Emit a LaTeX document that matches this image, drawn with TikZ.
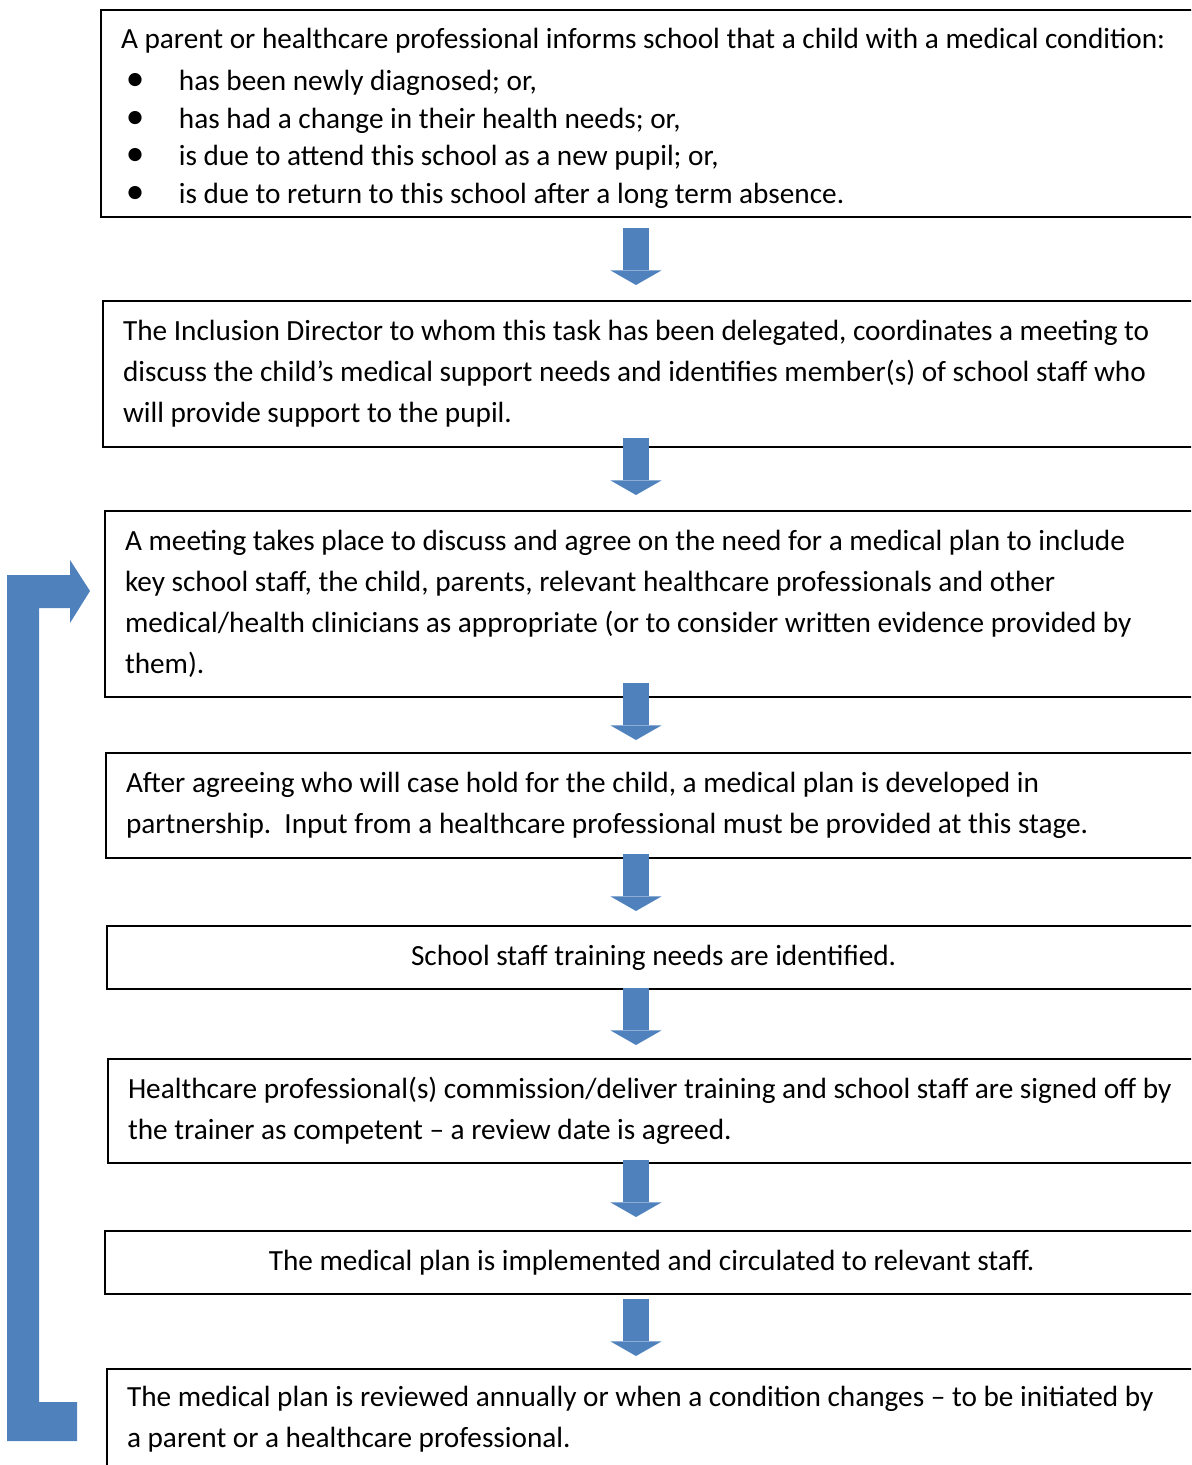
\documentclass[tikz,border=0pt]{standalone}
\usepackage{fontspec}
\setmainfont{Carlito}
\usetikzlibrary{arrows.meta}
\definecolor{flowblue}{RGB}{79,129,189}
\newcommand{\bulitem}{\makebox[21.8pt][l]{\hspace{1.8pt}{\fontsize{14}{14}\selectfont\textbullet}}}
\tikzset{
  stepbox/.style={draw,line width=0.8pt,anchor=north west,inner xsep=7.5pt,
    inner ysep=0pt,align=flush left,text width=430pt,
    font={\fontsize{11}{15.4}\selectfont}},
  centrebox/.style={stepbox,align=flush center,text width=396pt},
  downflow/.style={draw=flowblue,line width=9.8pt,
    -{Triangle[width=19.2pt,length=5.5pt,line width=0pt,fill=flowblue]}}
}

\begin{document}
\begin{tikzpicture}[x=0.376pt,y=-0.376pt]
    \clip (0,0) rectangle (1191,1465);
    % First we draw the steps
    \node[stepbox,minimum height=207*0.376pt] (inform) at (100,9)
      {{\baselineskip=14.1pt \rule{0pt}{11.3pt}A parent or healthcare professional informs school that a child with a medical condition:\\[1.7pt]
       \bulitem has been newly diagnosed; or,\\
       \bulitem has had a change in their health needs; or,\\
       \bulitem is due to attend this school as a new pupil; or,\\
       \bulitem is due to return to this school after a long term absence.\par}};
    \node[stepbox,minimum height=146*0.376pt] (coordinate) at (102,300)
      {The Inclusion Director to whom this task has been delegated, coordinates a meeting to\\
       discuss the child’s medical support needs and identifies member(s) of school staff who\\
       will provide support to the pupil.};
    \node[stepbox,minimum height=186*0.376pt] (meeting) at (104,510)
      {A meeting takes place to discuss and agree on the need for a medical plan to include\\
       key school staff, the child, parents, relevant healthcare professionals and other\\
       medical/health clinicians as appropriate (or to consider written evidence provided by\\
       them).};
    \node[stepbox,minimum height=105*0.376pt] (develop) at (105,752)
      {After agreeing who will case hold for the child, a medical plan is developed in\\
       partnership.\ \ Input from a healthcare professional must be provided at this stage.};
    \node[centrebox,minimum height=63*0.376pt] (needs) at (106,925)
      {School staff training needs are identified.};
    \node[stepbox,minimum height=104*0.376pt] (training) at (107,1058)
      {Healthcare professional(s) commission/deliver training and school staff are signed off by\\
       the trainer as competent – a review date is agreed.};
    \node[centrebox,minimum height=63*0.376pt] (implement) at (104,1230)
      {The medical plan is implemented and circulated to relevant staff.};
    \node[stepbox,minimum height=101*0.376pt] (review) at (106,1368)
      {The medical plan is reviewed annually or when a condition changes – to be initiated by\\
       a parent or a healthcare professional.};
    % Arrows between the steps
    \foreach \i/\y in {1/228, 2/438, 3/683, 4/854, 5/988, 6/1160, 7/1299} {
        \coordinate (top\i) at (636,\y);
        \coordinate (tip\i) at (636,\y+57);
        \path[downflow] (top\i) -- (tip\i);
    }
    % Loop back from the review to the meeting
    \fill[flowblue] (77,1402) -- (39,1402) -- (39,608) -- (70,608) -- (70,623)
      -- (90,591) -- (70,560) -- (70,575) -- (7,575) -- (7,1441) -- (77,1441) -- cycle;
\end{tikzpicture}
\end{document}
